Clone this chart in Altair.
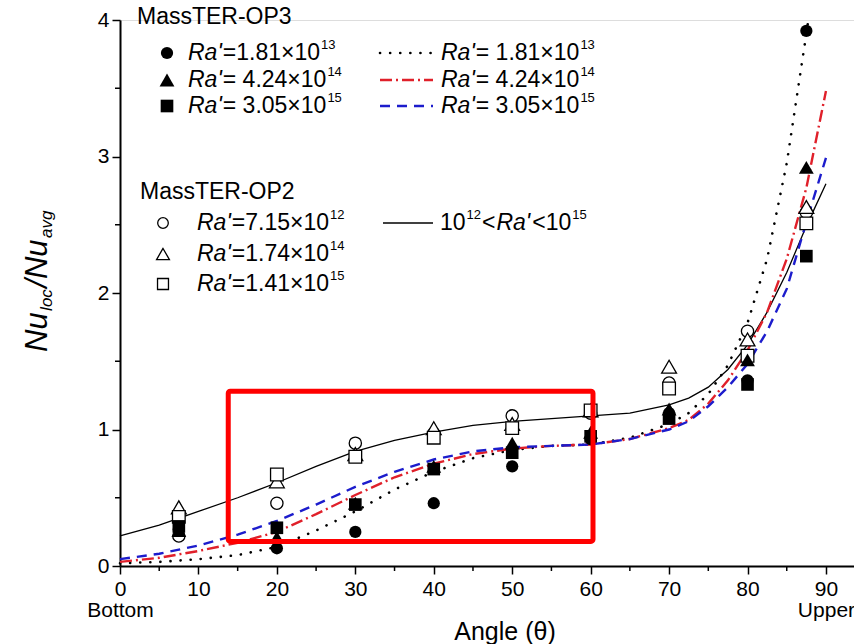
import altair as alt
import pandas as pd

# ---------------- data ----------------
ANGLES = [7.5, 20, 30, 40, 50, 60, 70, 80, 87.5]
# MassTER-OP3 (filled markers)
OP3_RA_181E13 = [0.27, 0.13, 0.25, 0.46, 0.73, 0.93, 1.12, 1.36, 3.92]
OP3_RA_424E14 = [0.26, 0.21, 0.46, 0.73, 0.90, 0.98, 1.15, 1.51, 2.92]
OP3_RA_305E15 = [0.29, 0.28, 0.45, 0.71, 0.83, 0.95, 1.08, 1.33, 2.27]
# MassTER-OP2 (open markers)
OP2_RA_715E12 = [0.22, 0.46, 0.90, 0.97, 1.10, 1.12, 1.34, 1.72, 2.59]
OP2_RA_174E14 = [0.43, 0.62, 0.82, 1.01, 1.04, 1.14, 1.46, 1.66, 2.63]
OP2_RA_141E15 = [0.36, 0.67, 0.80, 0.94, 1.01, 1.14, 1.30, 1.54, 2.51]

# correlation curves
CURVE_ANGLES = [0, 5, 10, 15, 20, 25, 30, 35, 40, 45, 50, 55, 60, 65, 70,
                72.5, 75, 77.5, 80, 82.5, 85, 87.5, 90]
FIT_SOLID = [0.22, 0.30, 0.40, 0.50, 0.61, 0.73, 0.84, 0.92, 0.98, 1.03, 1.06,
             1.08, 1.10, 1.12, 1.18, 1.23, 1.31, 1.44, 1.62, 1.86, 2.15, 2.49, 2.80]
FIT_DASHDOT = [0.03, 0.06, 0.11, 0.17, 0.25, 0.38, 0.52, 0.65, 0.75, 0.82, 0.86,
               0.88, 0.89, 0.93, 1.01, 1.07, 1.19, 1.36, 1.58, 1.86, 2.25, 2.77, 3.48]
FIT_DASH = [0.05, 0.09, 0.15, 0.23, 0.33, 0.45, 0.58, 0.69, 0.78, 0.84, 0.87,
            0.88, 0.89, 0.93, 1.00, 1.06, 1.17, 1.31, 1.48, 1.72, 2.03, 2.52, 2.99]
DOT_ANGLES = [0, 5, 10, 15, 20, 25, 30, 35, 40, 45, 50, 55, 60, 65, 70,
              72.5, 75, 77.5, 80, 82.5, 85, 87.5, 87.8]
FIT_DOT = [0.02, 0.03, 0.05, 0.08, 0.14, 0.26, 0.40, 0.56, 0.69, 0.79, 0.85,
           0.88, 0.89, 0.94, 1.04, 1.12, 1.26, 1.47, 1.78, 2.25, 2.95, 3.90, 4.02]

BOX_X = [13.8, 60.3]
BOX_Y = [0.18, 1.28]

X_TICKS = [0, 10, 20, 30, 40, 50, 60, 70, 80, 90]
X_MINOR = [5, 15, 25, 35, 45, 55, 65, 75, 85]
Y_TICKS = [0, 1, 2, 3, 4]
Y_MINOR = [0.5, 1.5, 2.5, 3.5]

# ---------------- layout ----------------
LEFT, TOP = 120, 20
W, H = 734, 546
FONT = "Liberation Sans"
RED = "#e0202a"
BLUE = "#1c1ccc"

xscale = alt.Scale(domain=[0, W / 7.844], nice=False, zero=False)
yscale = alt.Scale(domain=[0, 4], nice=False, zero=False)
xaxis = alt.Axis(values=X_TICKS, title=None, grid=False, tickSize=8, tickWidth=1.5,
                 tickColor="black", domainColor="black", domainWidth=2,
                 labelFont=FONT, labelFontSize=21, labelColor="black", labelPadding=4,
                 labelLineHeight=21, labelFlush=False, labelOverlap=False,
                 labelExpr="datum.value == 0 ? ['0', 'Bottom'] : datum.value == 90 ? ['90', 'Upper'] : datum.label")
yaxis = alt.Axis(values=Y_TICKS, title=None, grid=False, tickSize=8, tickWidth=1.5,
                 tickColor="black", domainColor="black", domainWidth=2, format="d",
                 labelFont=FONT, labelFontSize=21, labelColor="black", labelPadding=3,
                 labelFlush=False, labelOverlap=False)


def X(f):
    return alt.X(f, type="quantitative", scale=xscale, axis=xaxis)


def Y(f):
    return alt.Y(f, type="quantitative", scale=yscale, axis=yaxis)


PX = alt.X("px:Q", scale=None, axis=None)
PY = alt.Y("py:Q", scale=None, axis=None)

layers = []

# minor ticks
layers.append(alt.Chart(pd.DataFrame({"x": X_MINOR})).mark_rule(color="black", strokeWidth=1.5)
              .encode(x=X("x"), y=alt.value(H), y2=alt.value(H + 5)))
layers.append(alt.Chart(pd.DataFrame({"y": Y_MINOR})).mark_rule(color="black", strokeWidth=1.5)
              .encode(y=Y("y"), x=alt.value(0), x2=alt.value(-5)))

# curves
def curve(xs, ys, **kw):
    return alt.Chart(pd.DataFrame({"x": xs, "y": ys})).mark_line(clip=False, **kw).encode(
        x=X("x"), y=Y("y"), order="x:Q")

layers.append(curve(CURVE_ANGLES, FIT_SOLID, color="black", strokeWidth=1.3))
layers.append(curve(DOT_ANGLES, FIT_DOT, color="black", strokeWidth=2.6, strokeDash=[0.1, 10], strokeCap="round"))
layers.append(curve(CURVE_ANGLES, FIT_DASHDOT, color=RED, strokeWidth=2.4, strokeDash=[12, 4, 2, 4]))
layers.append(curve(CURVE_ANGLES, FIT_DASH, color=BLUE, strokeWidth=2.4, strokeDash=[10, 7]))

SIZES = {"circle": 150, "triangle-up": 220, "square": 160}

def pts(ys, shape, filled):
    df = pd.DataFrame({"x": ANGLES, "y": ys})
    if filled:
        m = alt.Chart(df).mark_point(shape=shape, filled=True, color="black", opacity=1,
                                     size=SIZES[shape], strokeWidth=0)
    else:
        m = alt.Chart(df).mark_point(shape=shape, filled=True, fill="white", stroke="black",
                                     strokeWidth=1.3, opacity=1, size=SIZES[shape])
    return m.encode(x=X("x"), y=Y("y"))

layers.append(pts(OP2_RA_715E12, "circle", False))
layers.append(pts(OP2_RA_174E14, "triangle-up", False))
layers.append(pts(OP2_RA_141E15, "square", False))
layers.append(pts(OP3_RA_424E14, "triangle-up", True))
layers.append(pts(OP3_RA_305E15, "square", True))
layers.append(pts(OP3_RA_181E13, "circle", True))

# highlight box
layers.append(alt.Chart(pd.DataFrame({"x1": [BOX_X[0]], "x2": [BOX_X[1]], "y1": [BOX_Y[0]], "y2": [BOX_Y[1]]}))
              .mark_rect(fillOpacity=0, stroke="#ff0000", strokeWidth=5, cornerRadius=2)
              .encode(x=X("x1"), x2="x2", y=Y("y1"), y2="y2"))

# ---------------- legend (text laid out in pixels) ----------------
AW = {c: 556 for c in "0123456789"}
AW.update({".": 278, "=": 584, "×": 584, " ": 278, "<": 584, "R": 722, "a": 556, "'": 191,
           "N": 722, "u": 556, "l": 222, "o": 556, "c": 500, "/": 278, "v": 500, "g": 556})


def tw(s, size):
    return sum(AW.get(c, 556) for c in s) * size / 1000.0


LS = 23   # legend font size
SS = 13   # superscript size
items = []  # (kind, x_abs, y_abs, text)


def ra_label(x, y, rest, exp):
    items.append(("ital", x, y, "Ra'"))
    x2 = x + tw("Ra'", LS) + 1
    items.append(("reg", x2, y, rest))
    items.append(("sup", x2 + tw(rest, LS) + 1, y - 8, exp))


items.append(("reg", 137, 17, "MassTER-OP3"))
items.append(("reg", 140, 192, "MassTER-OP2"))
OP3_ROWS = [53, 80, 106]
OP2_ROWS = [223, 254, 284]
for yy, rest, e in zip(OP3_ROWS, ["=1.81×10", "= 4.24×10", "= 3.05×10"], ["13", "14", "15"]):
    ra_label(188, yy, rest, e)
for yy, rest, e in zip(OP3_ROWS, ["= 1.81×10", "= 4.24×10", "= 3.05×10"], ["13", "14", "15"]):
    ra_label(441, yy, rest, e)
for yy, rest, e in zip(OP2_ROWS, ["=7.15×10", "=1.74×10", "=1.41×10"], ["12", "14", "15"]):
    ra_label(197, yy, rest, e)
# 10^12 < Ra' < 10^15
cx, cy = 440, OP2_ROWS[0]
items.append(("reg", cx, cy, "10")); cx += tw("10", LS) + 1
items.append(("sup", cx, cy - 8, "12")); cx += tw("12", SS) + 1
items.append(("reg", cx, cy, "<")); cx += tw("<", LS) + 1
items.append(("ital", cx, cy, "Ra'")); cx += tw("Ra'", LS) + 2
items.append(("reg", cx, cy, "<10")); cx += tw("<10", LS) + 1
items.append(("sup", cx, cy - 8, "15"))

leg = pd.DataFrame(items, columns=["kind", "xa", "ya", "text"])
leg["px"] = leg["xa"] - LEFT
leg["py"] = leg["ya"] - TOP

styles = {"reg": dict(fontSize=LS, fontStyle="normal"),
          "ital": dict(fontSize=LS, fontStyle="italic"),
          "sup": dict(fontSize=SS, fontStyle="normal")}
for k, st in styles.items():
    layers.append(alt.Chart(leg[leg["kind"] == k]).mark_text(
        align="left", baseline="middle", font=FONT, color="black", **st)
        .encode(x=PX, y=PY, text="text:N"))

# legend markers
mk = pd.DataFrame({
    "shape": ["circle", "triangle-up", "square", "circle", "triangle-up", "square"],
    "filled": [True, True, True, False, False, False],
    "xa": [167, 167, 167, 163, 163, 163],
    "ya": OP3_ROWS + OP2_ROWS,
})
mk["px"] = mk["xa"] - LEFT
mk["py"] = mk["ya"] - TOP
for _, r in mk.iterrows():
    d = pd.DataFrame([r])
    if r["filled"]:
        m = alt.Chart(d).mark_point(shape=r["shape"], filled=True, color="black", opacity=1,
                                    size=SIZES[r["shape"]], strokeWidth=0)
    else:
        m = alt.Chart(d).mark_point(shape=r["shape"], filled=True, fill="white", stroke="black",
                                    strokeWidth=1.3, opacity=1, size=SIZES[r["shape"]] * 0.75)
    layers.append(m.encode(x=PX, y=PY))

# legend line samples
ln = pd.DataFrame({"x1": [380, 380, 380, 383], "x2": [433, 433, 433, 433],
                   "ya": [OP3_ROWS[0], OP3_ROWS[1], OP3_ROWS[2], OP2_ROWS[0]]})
ln["px"] = ln["x1"] - LEFT
ln["px2"] = ln["x2"] - LEFT
ln["py"] = ln["ya"] - TOP
line_styles = [dict(color="black", strokeWidth=2.6, strokeDash=[0.1, 10], strokeCap="round"),
               dict(color=RED, strokeWidth=2.4, strokeDash=[12, 4, 2, 4]),
               dict(color=BLUE, strokeWidth=2.4, strokeDash=[10, 7]),
               dict(color="black", strokeWidth=1.3)]
for i, st in enumerate(line_styles):
    layers.append(alt.Chart(ln.iloc[[i]]).mark_rule(**st).encode(
        x=PX, x2="px2:Q", y=PY))

# ---------------- axis titles ----------------
layers.append(alt.Chart(pd.DataFrame({"px": [505 - LEFT], "py": [632 - TOP], "t": ["Angle (θ)"]}))
              .mark_text(font=FONT, fontSize=25, color="black", align="center", baseline="middle")
              .encode(x=PX, y=PY, text="t:N"))

yt = []
yy = 352
for txt, size, base in [("Nu", 31, 47), ("loc", 17, 52), ("/Nu", 31, 47), ("avg", 17, 52)]:
    yt.append(dict(px=base - LEFT, py=yy - TOP, t=txt, s=size))
    yy -= tw(txt, size) + 1.5
ytd = pd.DataFrame(yt)
for s in [31, 17]:
    layers.append(alt.Chart(ytd[ytd["s"] == s]).mark_text(
        font=FONT, fontSize=s, fontStyle="italic", color="black", angle=270,
        align="left", baseline="alphabetic").encode(x=PX, y=PY, text="t:N"))

chart = alt.layer(*layers).properties(
    width=W, height=H,
    autosize=alt.AutoSizeParams(type="none"),
    padding={"left": LEFT, "top": TOP, "right": 0, "bottom": 644 - TOP - H},
).configure_view(strokeWidth=0).configure(background="white")

chart.save("out.html", embed_options={"renderer": "svg", "actions": False})
